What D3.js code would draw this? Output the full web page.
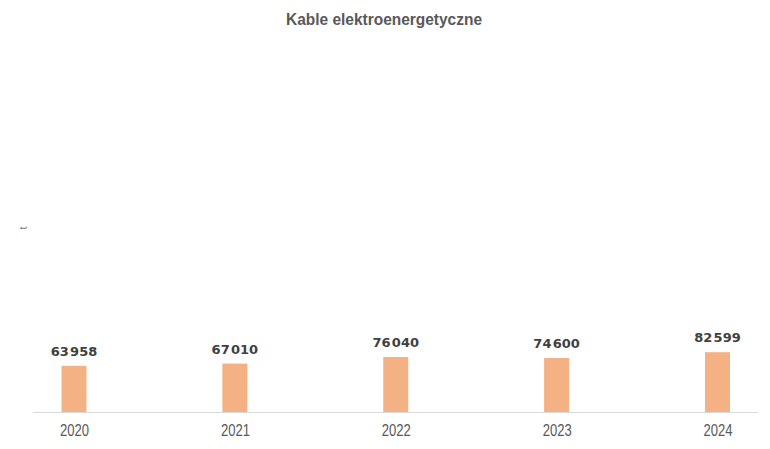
<!DOCTYPE html>
<html>
<head>
<meta charset="utf-8">
<style>
body { margin: 0; background: #fff; }
.title { font-family: "Liberation Sans", Arial, sans-serif; font-weight: bold; font-size: 17px; fill: #595959; }
.tick text { font-family: "Liberation Sans", Arial, sans-serif; font-size: 16px; fill: #595959; }
.value { font-family: "DejaVu Sans", sans-serif; font-weight: bold; font-size: 13px; fill: #404040; }
.unit { font-family: "Liberation Sans", sans-serif; font-size: 11px; fill: #7f7f7f; }
</style>
</head>
<body>
<svg width="770" height="449"></svg>
<script src="https://d3js.org/d3.v7.min.js"></script>
<script>

var years = ["2020", "2021", "2022", "2023", "2024"];
var values = [63958, 67010, 76040, 74600, 82599];

var svg = d3.select("svg"),
    baseY = 412.5,
    barW = 25;

var x = d3.scalePoint().domain(years).range([74, 717.5]);
var y = d3.scaleLinear().domain([0, 100000]).range([baseY, baseY - 73]);

var fmt = function(v) { return d3.format(",")(v).replace(",", "\u200A"); };

// no narrow font installed, so squeeze the text to the reference width
svg.append("text")
    .attr("class", "title")
    .attr("x", 384)
    .attr("y", 25)
    .attr("text-anchor", "middle")
    .attr("textLength", 196)
    .attr("lengthAdjust", "spacingAndGlyphs")
    .text("Kable elektroenergetyczne");

svg.append("text")
    .attr("class", "unit")
    .attr("transform", "translate(27,228) rotate(-90)")
    .attr("text-anchor", "middle")
    .text("t");

svg.selectAll(".bar")
    .data(values)
  .enter().append("rect")
    .attr("class", "bar")
    .attr("x", function(d, i) { return x(years[i]) - barW / 2; })
    .attr("y", function(d) { return y(d); })
    .attr("width", barW)
    .attr("height", function(d) { return baseY - y(d); })
    .attr("fill", "#f4b183");

svg.append("line")
    .attr("x1", 33).attr("x2", 758)
    .attr("y1", baseY).attr("y2", baseY)
    .attr("stroke", "#d9d9d9")
    .attr("stroke-width", 1);

var xAxis = d3.axisBottom(x).tickSize(0).tickPadding(12);
svg.append("g")
    .attr("transform", "translate(0," + baseY + ")")
    .call(xAxis)
    .call(function(g) { g.select(".domain").remove(); })
    .selectAll(".tick text")
    .attr("textLength", 29)
    .attr("lengthAdjust", "spacingAndGlyphs");

svg.selectAll(".value")
    .data(values)
  .enter().append("text")
    .attr("class", "value")
    .attr("x", function(d, i) { return x(years[i]); })
    .attr("y", function(d) { return y(d) - 10; })
    .attr("text-anchor", "middle")
    .text(fmt);

</script>
</body>
</html>
